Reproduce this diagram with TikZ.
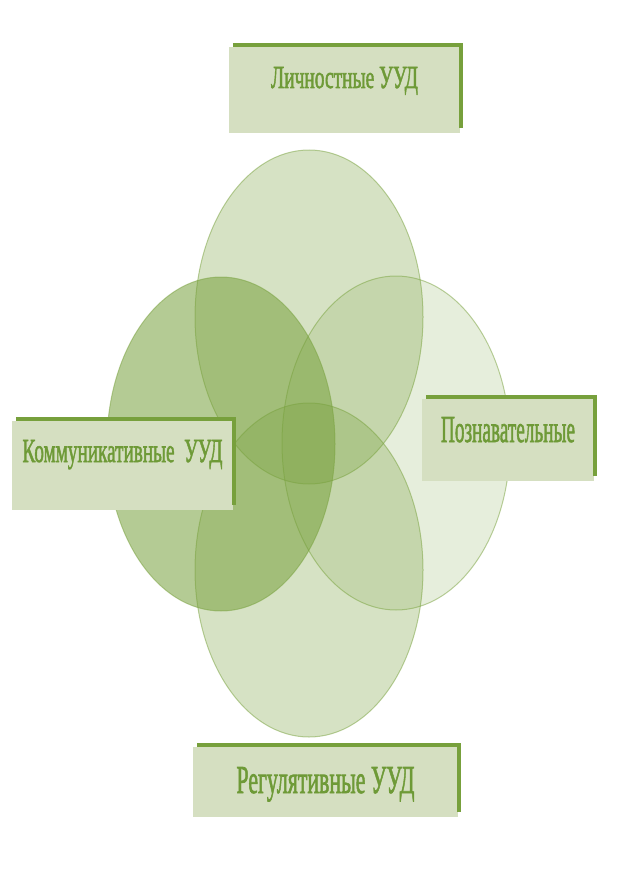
\documentclass[tikz,border=0pt]{standalone}
\usepackage{fontspec}
\newfontfamily\uudfont[FakeBold=2]{Liberation Serif}
\usepackage{tikz}
\usetikzlibrary{positioning}
\usetikzlibrary{calc}

\definecolor{uudgreen}{HTML}{77A03C}
\definecolor{boxfill}{HTML}{D5DFC1}
\definecolor{textgreen}{HTML}{6E9A37}

\tikzset{
  uudbox/.style={rectangle, fill=boxfill, inner sep=0pt},
  uudbar/.style={uudgreen, line width=4.5pt, line join=miter},
  uudtext/.style={text=textgreen, font=\uudfont, inner sep=0pt}
}

\begin{document}
\begin{tikzpicture}[x=1pt, y=-1pt]
   \useasboundingbox (0,0) rectangle (616,888);

   % the four ellipses
   \def\rx{114};
   \def\ry{167};
   \foreach \cx/\cy/\op in {309/317/0.3, 309/570/0.3, 396/443/0.18, 221/444/0.55}
      \filldraw[fill=uudgreen, fill opacity=\op, draw=uudgreen, draw opacity=0.5, line width=1pt]
         (\cx,\cy) ellipse [x radius=\rx, y radius=\ry];

   % label boxes with their bars
   \foreach \id/\cx/\cy/\w/\h in {lichn/344.5/90/231/86, komm/122.5/465.5/221/89, pozn/508/440/172/82, regul/325.5/782/265/70}
   {
      \node[uudbox, minimum width=\w pt, minimum height=\h pt] (\id Box) at (\cx,\cy) {};
      \draw[uudbar] ([xshift=4pt, yshift=2pt]\id Box.north west) -- ([xshift=1pt, yshift=2pt]\id Box.north east)
         -- ([xshift=1pt, yshift=5pt]\id Box.south east);
   }

   % labels
   \foreach \id/\txt/\tw/\th/\bs in {lichn/{Личностные УУД}/147/21/2, komm/{Коммуникативные\ \ УУД}/200/22/3.5, pozn/{Познавательные}/134/25/-2, regul/{Регулятивные УУД}/178/26/-11}
      \node[uudtext, anchor=base] (\id) at ([yshift=\bs pt]\id Box.center) {\resizebox{\tw pt}{\th pt}{\txt}};

\end{tikzpicture}
\end{document}
